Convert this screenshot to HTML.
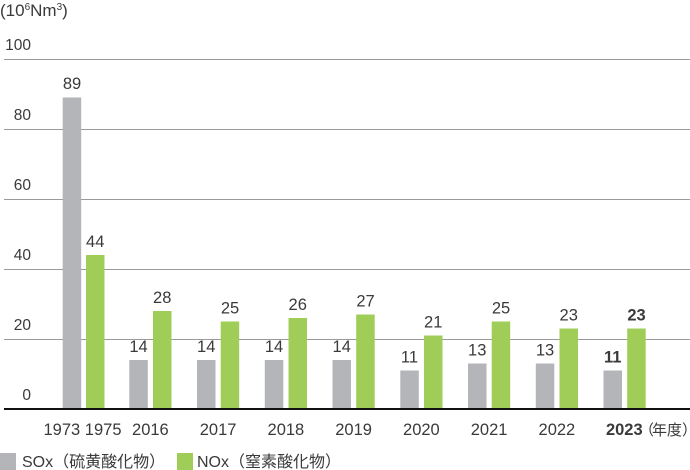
<!DOCTYPE html>
<html>
<head>
<meta charset="utf-8">
<style>
html,body{margin:0;padding:0;background:#fff;}
svg{display:block;}
text{font-family:"Liberation Sans","Noto Sans CJK JP",sans-serif;fill:#3a3a3a;}
</style>
</head>
<body>
<svg width="690" height="470" viewBox="0 0 690 470" xmlns="http://www.w3.org/2000/svg">
  <!-- unit title -->
  <text x="0" y="16" font-size="17">(10<tspan font-size="10" dy="-6">6</tspan><tspan dy="6">Nm</tspan><tspan font-size="10" dy="-6">3</tspan><tspan dy="6">)</tspan></text>

  <!-- gridlines -->
  <g stroke="#9a9a9a" stroke-width="1">
    <line x1="4" y1="59.5" x2="690" y2="59.5"/>
    <line x1="4" y1="129.5" x2="690" y2="129.5"/>
    <line x1="4" y1="199.5" x2="690" y2="199.5"/>
    <line x1="4" y1="269.5" x2="690" y2="269.5"/>
    <line x1="4" y1="339.5" x2="690" y2="339.5"/>
  </g>

  <!-- y labels -->
  <g font-size="15.5" text-anchor="end">
    <text x="31" y="50">100</text>
    <text x="31" y="120">80</text>
    <text x="31" y="190">60</text>
    <text x="31" y="260">40</text>
    <text x="31" y="330">20</text>
    <text x="31" y="400">0</text>
  </g>

  <!-- SOx bars -->
  <g fill="#b4b5b9">
    <rect x="62.7" y="97.5" width="18.5" height="311.5"/>
    <rect x="129.3" y="360" width="18.5" height="49"/>
    <rect x="197" y="360" width="18.5" height="49"/>
    <rect x="264.8" y="360" width="18.5" height="49"/>
    <rect x="332.5" y="360" width="18.5" height="49"/>
    <rect x="400.3" y="370.5" width="18.5" height="38.5"/>
    <rect x="468" y="363.5" width="18.5" height="45.5"/>
    <rect x="535.8" y="363.5" width="18.5" height="45.5"/>
    <rect x="603.5" y="370.5" width="18.5" height="38.5"/>
  </g>
  <!-- NOx bars -->
  <g fill="#9fcd58">
    <rect x="86" y="255" width="18.5" height="154"/>
    <rect x="153" y="311" width="18.5" height="98"/>
    <rect x="220.7" y="321.5" width="18.5" height="87.5"/>
    <rect x="288.5" y="318" width="18.5" height="91"/>
    <rect x="356.2" y="314.5" width="18.5" height="94.5"/>
    <rect x="424" y="335.5" width="18.5" height="73.5"/>
    <rect x="491.7" y="321.5" width="18.5" height="87.5"/>
    <rect x="559.5" y="328.5" width="18.5" height="80.5"/>
    <rect x="627.2" y="328.5" width="18.5" height="80.5"/>
  </g>

  <!-- axis -->
  <line x1="4" y1="409" x2="690" y2="409" stroke="#111" stroke-width="2"/>

  <!-- value labels -->
  <g font-size="16.5" text-anchor="middle">
    <text x="72" y="89">89</text>
    <text x="95.2" y="247">44</text>
    <text x="138.5" y="352">14</text>
    <text x="162.2" y="303">28</text>
    <text x="206.2" y="352">14</text>
    <text x="230" y="313.5">25</text>
    <text x="274" y="352">14</text>
    <text x="297.7" y="310">26</text>
    <text x="341.7" y="352">14</text>
    <text x="365.5" y="306.5">27</text>
    <text x="409.5" y="362.5">11</text>
    <text x="433.2" y="327.5">21</text>
    <text x="477.2" y="355.5">13</text>
    <text x="501" y="313.5">25</text>
    <text x="545" y="355.5">13</text>
    <text x="568.7" y="320.5">23</text>
    <text x="612.7" y="362.5" font-weight="bold">11</text>
    <text x="636.5" y="320.5" font-weight="bold">23</text>
  </g>

  <!-- x labels -->
  <g font-size="16.5" text-anchor="middle">
    <text x="82.5" y="435">1973 1975</text>
    <text x="150.4" y="435">2016</text>
    <text x="218.1" y="435">2017</text>
    <text x="285.9" y="435">2018</text>
    <text x="353.6" y="435">2019</text>
    <text x="421.4" y="435">2020</text>
    <text x="489.1" y="435">2021</text>
    <text x="556.9" y="435">2022</text>
    <text x="624.3" y="435" font-weight="bold">2023</text>
  </g>
  <text x="639" y="435" font-size="15">（</text>
  <text x="652" y="435" font-size="15">年度</text>
  <text x="682" y="435" font-size="15">）</text>

  <!-- legend -->
  <rect x="0" y="453" width="16" height="17" fill="#b4b5b9"/>
  <text x="22" y="467" font-size="16">SOx（硫黄酸化物）</text>
  <rect x="177" y="453" width="16" height="17" fill="#9fcd58"/>
  <text x="197" y="467" font-size="16">NOx（窒素酸化物）</text>
</svg>
</body>
</html>
